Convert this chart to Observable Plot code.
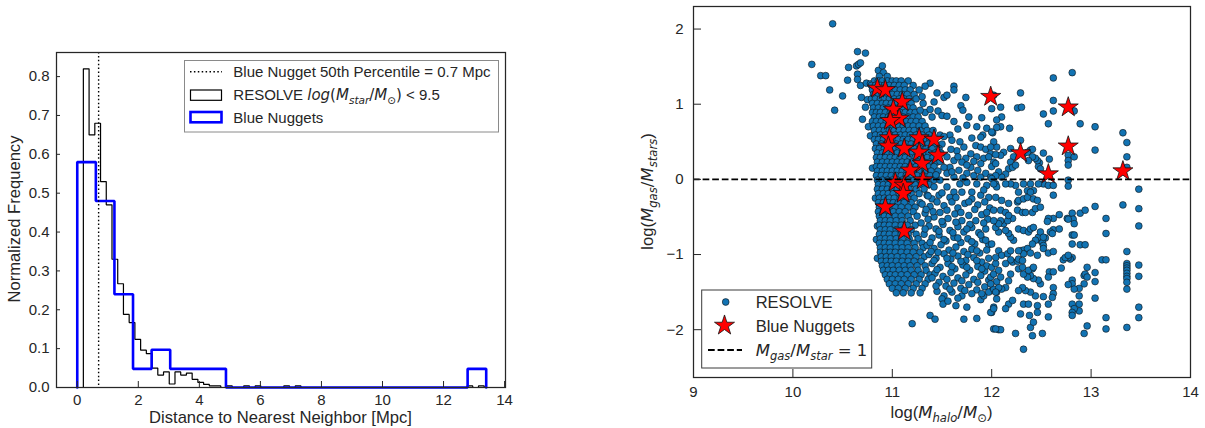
<!DOCTYPE html>
<html>
<head>
<meta charset="utf-8">
<script src="https://cdn.jsdelivr.net/npm/d3@7"></script>
<script src="https://cdn.jsdelivr.net/npm/@observablehq/plot@0.6"></script>
<style>
  body { margin: 0; background: #fff; }
  #wrap { position: relative; width: 1205px; height: 428px; overflow: hidden; }
  #wrap svg { position: absolute; top: 0; max-width: none; }
</style>
</head>
<body>
<div id="wrap"></div>
<script>
// ---------- Left panel: nearest-neighbour distance histograms ----------
const resolveBinStart = 0.2;
const resolveBinWidth = 0.1876;
const resolveHeights = [
  0.82, 0.65, 0.68, 0.53, 0.47, 0.33, 0.267, 0.188, 0.167, 0.124,
  0.096, 0.087, 0.05, 0.032, 0.04, 0.009, 0.04, 0.032, 0.037, 0.021,
  0.013, 0.008, 0.004, 0.004, 0, 0.004, 0, 0, 0.004, 0,
  0.004, 0, 0, 0, 0, 0.004, 0, 0.004, 0, 0,
  0, 0, 0, 0, 0, 0, 0, 0, 0, 0,
  0, 0, 0, 0, 0, 0, 0, 0, 0, 0,
  0, 0, 0, 0, 0, 0, 0, 0.004, 0, 0.004
];
const nuggetBinStart = 0;
const nuggetBinWidth = 0.609;
const nuggetHeights = [
  0.58, 0.48, 0.24, 0.048, 0.097, 0.048, 0.048, 0.048, 0, 0,
  0, 0, 0, 0, 0, 0, 0, 0, 0, 0,
  0, 0.048
];
const nuggetMedian = 0.7;
const distTicks = [0, 2, 4, 6, 8, 10, 12, 14];
const freqTicks = [0, 0.1, 0.2, 0.3, 0.4, 0.5, 0.6, 0.7, 0.8];

// ---------- Right panel: gas fraction vs halo mass ----------
const resolveSparseLeft = [
  [10.40,2.07],[10.19,1.53],[10.28,1.38],[10.33,1.38],[10.37,1.19],[10.50,1.11],[10.42,0.92],
  [10.55,1.32],[10.56,1.49],[10.65,1.70],[10.73,1.68],[10.64,1.51],[10.66,1.53],[10.68,1.55],
  [10.65,1.40],[10.65,1.33],[10.68,1.25],[10.69,1.09],[10.70,0.80],[10.75,1.06],[10.74,1.28],
  [10.78,1.27],[10.73,0.96],[10.86,1.45],[10.90,1.51],[10.91,1.42],[10.87,1.37],[10.95,1.37],
  [10.76,0.70],[10.78,0.58],[10.85,-0.62],[10.84,-0.80],[10.85,-1.05],[10.80,0.15],[10.83,-0.25]
];
const resolveCoreRows = [
  [1.31, [10.82,10.86,10.90,10.95,11.00,11.04,11.09,11.16]],
  [1.25, [10.79,10.83,10.88,10.92,10.97,11.02,11.07,11.12,11.21]],
  [1.19, [10.80,10.85,10.89,10.94,10.99,11.03,11.08,11.13,11.18]],
  [1.13, [10.81,10.86,10.90,10.95,11.00,11.05,11.10,11.15,11.22]],
  [1.07, [10.79,10.83,10.88,10.92,10.97,11.02,11.07,11.12,11.17,11.24]],
  [1.01, [10.80,10.85,10.90,10.94,10.99,11.04,11.09,11.14,11.19,11.31]],
  [0.95, [10.81,10.86,10.91,10.96,11.01,11.06,11.11,11.16,11.21]],
  [0.89, [10.80,10.84,10.88,10.93,10.98,11.03,11.08,11.13,11.18,11.23,11.33]],
  [0.83, [10.82,10.87,10.91,10.96,11.01,11.06,11.11,11.16,11.21,11.26,11.40]],
  [0.77, [10.80,10.84,10.89,10.94,10.99,11.04,11.09,11.14,11.19,11.24,11.30]],
  [0.71, [10.81,10.86,10.91,10.96,11.01,11.06,11.11,11.16,11.21,11.27,11.33]],
  [0.65, [10.82,10.87,10.92,10.97,11.02,11.07,11.12,11.17,11.22,11.28,11.35,11.41]],
  [0.59, [10.83,10.88,10.93,10.98,11.03,11.08,11.13,11.18,11.24,11.30,11.37,11.48]],
  [0.53, [10.82,10.86,10.91,10.96,11.01,11.06,11.11,11.16,11.21,11.26,11.32,11.38]],
  [0.47, [10.84,10.89,10.94,10.99,11.04,11.09,11.14,11.19,11.24,11.30,11.36,11.42,11.50]],
  [0.41, [10.83,10.87,10.92,10.97,11.02,11.07,11.12,11.17,11.22,11.28,11.34,11.40,11.47]],
  [0.35, [10.85,10.90,10.95,11.00,11.05,11.10,11.15,11.20,11.25,11.31,11.37,11.43,11.49]],
  [0.29, [10.84,10.88,10.93,10.98,11.03,11.08,11.13,11.18,11.23,11.29,11.35,11.41]],
  [0.23, [10.85,10.90,10.95,11.00,11.05,11.10,11.15,11.20,11.26,11.32,11.38,11.45]],
  [0.17, [10.84,10.88,10.93,10.98,11.03,11.08,11.13,11.18,11.24,11.30,11.36,11.42]],
  [0.11, [10.85,10.90,10.95,11.00,11.05,11.10,11.15,11.21,11.27,11.33,11.39,11.46]],
  [0.05, [10.84,10.89,10.94,10.99,11.04,11.09,11.14,11.19,11.25,11.31,11.38,11.44]],
  [-0.01, [10.85,10.90,10.95,11.00,11.05,11.10,11.16,11.22,11.28,11.35,11.42]],
  [-0.07, [10.86,10.91,10.96,11.01,11.06,11.11,11.17,11.23,11.30,11.37]],
  [-0.13, [10.85,10.90,10.95,11.00,11.05,11.11,11.17,11.24,11.32]],
  [-0.19, [10.86,10.91,10.96,11.01,11.07,11.13,11.19,11.27]],
  [-0.25, [10.87,10.92,10.97,11.02,11.08,11.15,11.22]],
  [-0.31, [10.86,10.91,10.96,11.01,11.06,11.12,11.19,11.28]],
  [-0.37, [10.87,10.92,10.97,11.03,11.09,11.16,11.23]],
  [-0.43, [10.86,10.91,10.96,11.01,11.07,11.13,11.21]],
  [-0.49, [10.87,10.92,10.97,11.03,11.09,11.16,11.25]],
  [-0.55, [10.88,10.93,10.98,11.04,11.10,11.18]],
  [-0.61, [10.87,10.92,10.97,11.03,11.09,11.15,11.23]],
  [-0.67, [10.88,10.93,10.98,11.04,11.11,11.19]],
  [-0.73, [10.87,10.92,10.97,11.03,11.09,11.16,11.24]],
  [-0.79, [10.88,10.93,10.98,11.04,11.10,11.17,11.26]],
  [-0.85, [10.87,10.92,10.97,11.03,11.09,11.15,11.22,11.30]],
  [-0.91, [10.88,10.93,10.98,11.04,11.10,11.16,11.23,11.31]],
  [-0.97, [10.88,10.93,10.98,11.03,11.09,11.15,11.21,11.28]],
  [-1.03, [10.89,10.94,10.99,11.05,11.11,11.17,11.24,11.32]],
  [-1.09, [10.89,10.94,10.99,11.04,11.10,11.16,11.22,11.29]],
  [-1.15, [10.90,10.95,11.00,11.06,11.12,11.18,11.25,11.33]],
  [-1.21, [10.91,10.96,11.01,11.07,11.13,11.19,11.26,11.34]],
  [-1.27, [10.93,10.98,11.03,11.09,11.15,11.22,11.29,11.38]],
  [-1.33, [10.95,11.00,11.06,11.12,11.19,11.27,11.36]],
  [-1.39, [10.97,11.03,11.09,11.16,11.24,11.33]],
  [-1.45, [11.00,11.06,11.13,11.21,11.30]],
  [-1.51, [11.04,11.11,11.19,11.28]]
];
const resolveMidUpper = [
  [11.38,1.28],[11.62,1.24],[11.52,1.09],[11.55,1.12],[11.42,1.03],[11.74,1.09],[11.69,0.98],
  [11.71,0.92],[11.28,0.92],[11.38,0.93],[11.46,0.91],[11.50,0.85],[11.55,0.84],[11.62,0.77],
  [11.75,0.72],[11.85,0.70],[11.90,0.82],[11.77,0.83],[11.91,0.59],[11.89,0.56],[11.84,0.45],
  [11.89,0.43],[11.94,0.40],[11.99,0.34],[12.05,0.43],[12.02,0.50],[12.01,0.62],[11.58,0.59],
  [11.52,0.57],[11.60,0.52],[11.72,0.43],[11.79,0.34],[11.74,0.28],[11.85,0.30],[11.92,0.28],
  [11.97,0.30],[12.02,0.23],[11.89,0.21],[11.79,0.16],[11.70,0.23],[11.62,0.25],[11.55,0.30],
  [11.58,0.16],[11.67,0.12],[11.75,0.08],[11.82,0.05],[11.89,0.03],[11.94,0.08],[11.99,0.03],
  [12.04,-0.06],[11.95,-0.08],[11.85,-0.06],[11.75,-0.04],[11.68,-0.06],[11.62,0.03],[11.55,0.08],
  [11.52,0.16],[11.48,-0.01],[11.55,-0.10],[11.62,-0.17],[11.70,-0.17],[11.80,-0.17],[11.89,-0.21],
  [11.97,-0.24],[11.42,-0.10],[11.47,-0.21],[11.58,-0.24],[11.35,-0.21],[11.40,-0.26],
  [11.62,1.19],[11.33,1.24],[11.45,1.15],[11.66,0.67],[11.95,0.68],[11.80,0.55],[11.68,0.50],
  [11.65,0.38],[11.59,0.40],[11.75,0.19],[11.27,1.19],[11.30,1.10],
  [11.44,0.06],[11.60,0.10],[11.71,0.02],[11.86,0.12],[11.48,0.24],[11.66,0.30],[11.82,0.24]
];
const resolveMidLower = [
  [11.30,-0.33],[11.38,-0.36],[11.45,-0.30],[11.52,-0.35],[11.60,-0.30],[11.66,-0.38],[11.73,-0.32],
  [11.80,-0.26],[11.86,-0.34],[11.93,-0.30],[11.98,-0.38],
  [11.33,-0.45],[11.42,-0.50],[11.48,-0.44],[11.56,-0.52],[11.63,-0.46],[11.70,-0.55],[11.77,-0.48],
  [11.84,-0.55],[11.90,-0.47],[11.96,-0.53],
  [11.29,-0.58],[11.37,-0.62],[11.44,-0.66],[11.51,-0.60],[11.58,-0.68],[11.66,-0.63],[11.72,-0.70],
  [11.80,-0.64],[11.87,-0.71],[11.94,-0.66],
  [11.32,-0.73],[11.40,-0.78],[11.47,-0.74],[11.54,-0.82],[11.62,-0.77],[11.69,-0.84],[11.76,-0.79],
  [11.83,-0.86],[11.91,-0.80],[11.97,-0.87],
  [11.35,-0.88],[11.42,-0.92],[11.49,-0.87],[11.57,-0.94],[11.64,-0.90],[11.72,-0.96],[11.80,-0.93],
  [11.88,-0.98],[11.95,-0.94],
  [11.37,-1.00],[11.44,-1.05],[11.52,-0.99],[11.59,-1.06],[11.66,-1.02],[11.74,-1.08],[11.82,-1.04],
  [11.90,-1.10],[11.97,-1.05],
  [11.40,-1.12],[11.48,-1.17],[11.56,-1.12],[11.63,-1.19],[11.71,-1.14],[11.78,-1.21],[11.86,-1.16],
  [11.93,-1.22],
  [11.43,-1.25],[11.51,-1.29],[11.59,-1.24],[11.66,-1.31],[11.74,-1.27],[11.82,-1.33],[11.89,-1.28],
  [11.97,-1.34],
  [11.47,-1.37],[11.54,-1.42],[11.62,-1.38],[11.69,-1.45],[11.77,-1.40],[11.85,-1.47],[11.93,-1.43],
  [12.00,-1.48],
  [11.45,-1.49],[11.52,-1.55],[11.60,-1.50],[11.70,-1.55],[11.80,-1.52],[11.89,-1.60],[11.92,-1.55],
  [11.97,-1.50],[12.02,-1.46],[12.05,-1.50],
  [11.50,-1.59],[11.51,-1.66],[11.38,-1.81],[11.43,-1.86],[11.20,-1.92],[11.72,-1.86],[11.85,-1.85],
  [12.00,-1.77],[12.02,-1.70],[12.05,-1.59],[12.02,-1.99],[12.07,-2.00],[11.56,-1.62],[11.64,-1.68],
  [11.75,-1.70],[11.66,-1.58],
  [11.34,-0.40],[11.41,-0.43],[11.55,-0.41],[11.69,-0.44],[11.83,-0.40],[11.95,-0.44],
  [11.36,-0.53],[11.50,-0.56],[11.64,-0.57],[11.78,-0.60],[11.92,-0.58],
  [11.33,-0.66],[11.47,-0.69],[11.61,-0.71],[11.75,-0.66],[11.89,-0.74],
  [11.38,-0.84],[11.52,-0.80],[11.66,-0.78],[11.80,-0.83],[11.94,-0.81],
  [11.39,-0.96],[11.46,-0.97],[11.61,-0.98],[11.76,-1.00],[11.85,-0.95],
  [11.42,-1.08],[11.55,-1.05],[11.69,-1.09],[11.85,-1.08],[11.95,-1.15],
  [11.45,-1.20],[11.60,-1.16],[11.75,-1.17],[11.90,-1.19],
  [11.40,-1.31],[11.55,-1.33],[11.70,-1.35],[11.86,-1.37],[11.99,-1.30],
  [11.44,-1.42],[11.58,-1.46],[11.73,-1.48],[11.90,-1.52],
  [11.36,-0.22],[11.50,-0.18],[11.64,-0.24],[11.77,-0.30],[11.92,-0.14]
];
const resolveHighHalo = [
  [12.81,1.42],[12.62,1.35],[12.29,1.15],[12.26,0.95],[12.30,0.96],[12.62,1.05],[12.62,0.91],
  [12.52,0.87],[12.57,0.74],[12.83,0.91],[12.89,0.74],[13.04,0.70],[13.04,0.39],[13.32,0.62],
  [13.36,0.49],[13.36,0.30],[13.36,0.16],
  [12.77,0.32],[12.77,0.25],[12.77,0.19],[12.77,-0.01],[12.77,-0.09],[12.83,0.30],[12.58,0.27],
  [12.52,0.35],[12.48,0.22],[12.47,0.17],[12.49,0.14],[12.46,0.25],[12.44,0.28],[12.39,0.39],
  [12.41,0.40],[12.29,0.52],[12.18,0.68],[12.10,0.83],[12.09,0.70],[12.05,0.79],[12.05,0.69],
  [12.09,0.96],[12.02,1.12],[12.00,0.94],[12.00,0.63],[11.99,0.43],[12.12,0.36],[12.09,0.32],
  [12.04,0.33],[12.19,0.41],[12.22,0.30],[12.19,0.23],[12.17,0.14],[12.14,0.07],[12.10,0.03],
  [12.07,0.10],[12.04,0.05],[12.00,0.01],[12.21,0.16],[12.24,0.19],[12.00,0.17],[12.04,0.21],
  [12.32,0.34],[12.36,0.36],[12.41,0.30],[12.37,0.25],
  [12.52,-0.06],[12.57,-0.08],[12.62,-0.08],[12.62,-0.21],[12.47,-0.06],[12.42,-0.15],[12.39,-0.06],
  [12.32,-0.06],[12.36,-0.15],[12.27,-0.17],[12.24,-0.08],[12.19,-0.06],[12.14,-0.06],[12.05,-0.10],
  [12.02,-0.06],
  [13.04,-0.36],[13.15,-0.52],[13.15,-0.72],[13.32,-0.34],[13.48,-0.13],[13.48,-0.39],[13.48,-0.62],
  [13.36,-0.96],[13.36,-1.12],[13.36,-1.15],[13.36,-1.18],[13.36,-1.21],[13.36,-1.25],[13.36,-1.29],
  [13.36,-1.32],[13.36,-1.37],[13.36,-1.46],[13.48,-1.14],[13.48,-1.29],[13.48,-1.70],[13.48,-1.84],
  [13.36,-1.97],[13.15,-1.84],[13.15,-1.99],[13.11,-1.07],[13.15,-1.07],[13.04,-1.24],[13.04,-1.36],
  [13.04,-1.58],[12.96,-1.17],[12.93,-1.28],[12.94,-1.26],[12.96,-1.30],[12.93,-1.39],
  [12.88,-1.45],[12.88,-1.55],[12.88,-1.66],[12.88,-1.75],
  [12.81,-1.34],[12.81,-1.39],[12.83,-1.46],[12.81,-1.66],[12.83,-1.72],[12.81,-1.77],[12.81,-1.81],
  [12.77,-1.40],[12.96,-1.95],[12.93,-2.05],[12.81,-1.04],[12.79,-1.06],[12.77,-1.04],
  [12.81,-0.86],[12.81,-0.74],[12.83,-0.74],[12.89,-0.87],[12.94,-0.87],
  [12.81,-0.45],[12.76,-0.52],[12.82,-0.53],[12.83,-0.59],[12.77,-0.53],[12.89,-0.45],[12.94,-0.41],
  [12.68,-0.47],[12.62,-0.52],[12.57,-0.52],[12.56,-0.56],[12.62,-0.67],[12.68,-0.66],[12.59,-0.70],
  [12.61,-0.72],[12.54,-0.78],[12.49,-0.81],[12.51,-0.84],[12.52,-0.88],[12.52,-0.92],[12.57,-0.98],
  [12.62,-0.96],[12.72,-1.07],[12.74,-1.04],[12.77,-1.01],[12.70,-1.18],[12.58,-1.23],[12.62,-1.23],
  [12.57,-1.30],[12.62,-1.44],[12.62,-1.52],[12.61,-1.57],[12.57,-1.66],[12.52,-1.56],[12.49,-1.39],
  [12.47,-1.34],[12.57,-1.83],[12.51,-2.05],[12.41,-2.08],[12.39,-1.97],[12.42,-1.90],[12.32,-2.26],
  [12.24,-2.05],[12.09,-2.00],[12.04,-1.99],[12.29,-1.79],[12.32,-1.66],[12.37,-1.66],[12.38,-1.81],
  [12.46,-1.68],[12.46,-1.77],[12.17,-1.66],[12.21,-1.61],[12.14,-1.72],[11.99,-1.77],[12.02,-1.72],
  [12.44,-1.55],[12.39,-1.50],[12.34,-1.48],[12.31,-1.44],[12.27,-1.48],[12.42,-1.32],[12.39,-1.28],
  [12.36,-1.30],[12.32,-1.26],[12.27,-1.19],[12.31,-1.17],[12.41,-1.19],[12.37,-1.21],[12.42,-1.17],
  [12.19,-1.26],[12.17,-1.35],[12.14,-1.44],[12.10,-1.46],[12.07,-1.44],[12.05,-1.36],[12.04,-1.50],
  [12.09,-1.30],[12.02,-1.26],[12.21,-1.10],[12.26,-1.09],[12.27,-1.06],[12.31,-1.08],[12.29,-0.95],
  [12.32,-0.94],[12.19,-1.07],[12.14,-1.12],[12.07,-1.21],[12.00,-1.17],[12.04,-1.12],[11.99,-1.39],
  [12.22,-0.81],[12.19,-0.77],[12.17,-0.72],[12.14,-0.68],[12.07,-0.70],[12.04,-0.64],[12.12,-0.59],
  [12.27,-0.66],[12.32,-0.68],[12.37,-0.70],[12.39,-0.66],[12.42,-0.64],[12.47,-0.77],[12.49,-0.70],
  [12.52,-0.77],[12.21,-0.52],[12.16,-0.55],[12.26,-0.41],[12.31,-0.44],[12.34,-0.44],[12.41,-0.44],
  [12.44,-0.39],[12.49,-0.37],[12.26,-0.30],[12.27,-0.28],[12.32,-0.26],[12.36,-0.24],[12.42,-0.26],
  [12.46,-0.28],[12.39,-0.17],[12.17,-0.32],[12.10,-0.28],[12.04,-0.24],[12.02,-0.41],[12.09,-0.41],
  [12.14,-0.44],[12.17,-0.48],[12.09,-0.55],[12.07,-0.59],[12.02,-0.55],[12.00,-0.86],[12.07,-0.95],
  [12.10,-1.01],[12.16,-0.99],[12.19,-0.95],[12.04,-1.04],[12.44,-0.81],[12.41,-0.86],[12.36,-0.92],
  [12.32,-0.99],[12.27,-0.95],[12.46,-1.01],[12.39,-0.98]
];
const nuggetPoints = [
  [10.85,1.21],[10.93,1.19],[11.10,1.03],[11.01,0.93],[11.07,0.81],[10.98,0.78],[11.99,1.10],
  [12.77,0.96],[10.97,0.55],[11.27,0.55],[11.42,0.53],[10.96,0.44],[11.12,0.41],[11.27,0.36],
  [11.46,0.32],[11.30,0.21],[11.18,0.12],[12.29,0.35],[12.77,0.44],[12.57,0.07],[13.32,0.11],
  [11.31,-0.01],[11.03,-0.04],[11.12,-0.08],[11.11,-0.19],[10.93,-0.37],[11.12,-0.69]
];
const equalGasStars = 0;
const haloTicks = [9, 10, 11, 12, 13, 14];
const ratioTicks = [-2, -1, 0, 1, 2];

// ---------- shared styling ----------
const SANS = "'Liberation Sans', Arial, sans-serif";
const MATH = "'DejaVu Sans', sans-serif";
const INK = "#262626";
const DOT_BLUE = "#1273b3";

// Histogram outline in the manner of a step histogram
function stepOutline(start, width, heights) {
  const pts = [{x: start, y: 0}];
  heights.forEach((h, i) => {
    pts.push({x: start + i * width, y: h}, {x: start + (i + 1) * width, y: h});
  });
  pts.push({x: start + heights.length * width, y: 0});
  return pts;
}

// Text with italic/subscript runs for the mathematical labels
function rich(sel, x, y, parts, {size = 15, anchor = "start", rotate = 0} = {}) {
  const t = sel.append("text")
    .attr("x", x).attr("y", y)
    .attr("text-anchor", anchor)
    .attr("fill", INK)
    .style("font-family", SANS)
    .style("font-size", size + "px");
  if (rotate) t.attr("transform", `rotate(${rotate},${x},${y})`);
  let shift = 0;
  for (const p of parts) {
    const s = t.append("tspan").text(p.t);
    const target = p.sub ? size * 0.26 : 0;
    if (target !== shift) { s.attr("dy", target - shift); shift = target; }
    s.style("font-size", (p.sub ? size * 0.7 : size) + "px");
    if (p.math) s.style("font-family", MATH);
    if (p.it) s.style("font-style", "italic");
  }
  return t;
}

const wrap = d3.select("#wrap");
const intFormat = d3.format("d");

// ---------- left chart ----------
const L = {width: 600, height: 428, top: 52, right: 95, bottom: 41, left: 56};
const leftPlot = Plot.plot({
  width: L.width, height: L.height,
  marginTop: L.top, marginRight: L.right, marginBottom: L.bottom, marginLeft: L.left,
  x: {domain: [-0.68, 14.03]},
  y: {domain: [0, 0.862]},
  style: {fontFamily: SANS, fontSize: "15px", color: INK, background: "transparent", overflow: "visible"},
  marks: [
    Plot.line(stepOutline(resolveBinStart, resolveBinWidth, resolveHeights),
      {x: "x", y: "y", stroke: "#000", strokeWidth: 1.2, strokeLinejoin: "miter"}),
    Plot.line(stepOutline(nuggetBinStart, nuggetBinWidth, nuggetHeights),
      {x: "x", y: "y", stroke: "#0000ff", strokeWidth: 2.6, strokeLinejoin: "miter"}),
    Plot.ruleX([nuggetMedian], {x: d => d, stroke: "#000", strokeWidth: 1.4, strokeDasharray: "1.5,2.4"}),
    Plot.tickX(distTicks, {x: d => d, stroke: INK, strokeWidth: 1, insetTop: L.height - L.top - L.bottom - 6}),
    Plot.tickY(freqTicks, {y: d => d, stroke: INK, strokeWidth: 1, insetRight: L.width - L.left - L.right - 4}),
    Plot.axisX(distTicks, {tickSize: 0, tickPadding: 7, label: null, tickFormat: intFormat, fontSize: 15}),
    Plot.axisY(freqTicks, {tickSize: 0, tickPadding: 7, label: null, tickFormat: d3.format(".1f"), fontSize: 15}),
    Plot.frame({stroke: INK, strokeWidth: 1.25})
  ]
});
d3.select(leftPlot).style("left", "0px");
wrap.node().appendChild(leftPlot);
const ls = d3.select(leftPlot);

rich(ls, 280.5, 423, [{t: "Distance to Nearest Neighbor [Mpc]"}], {size: 16.6, anchor: "middle"});
rich(ls, 20, 219, [{t: "Normalized Frequency"}], {size: 16.6, anchor: "middle", rotate: -90});

// legend
const lg = ls.append("g");
lg.append("rect").attr("x", 184.5).attr("y", 60.5).attr("width", 314).attr("height", 71.5)
  .attr("fill", "#fff").attr("stroke", "#8a8a8a").attr("stroke-width", 1);
lg.append("line").attr("x1", 190).attr("x2", 222).attr("y1", 71.7).attr("y2", 71.7)
  .attr("stroke", "#000").attr("stroke-width", 1.4).attr("stroke-dasharray", "1.5,2.4");
rich(lg, 233.3, 77, [{t: "Blue Nugget 50th Percentile = 0.7 Mpc"}]);
lg.append("rect").attr("x", 190.5).attr("y", 90).attr("width", 31).attr("height", 10.3)
  .attr("fill", "none").attr("stroke", "#000").attr("stroke-width", 1.2);
rich(lg, 233.3, 100.3, [
  {t: "RESOLVE "}, {t: "log", math: true, it: true}, {t: "(", math: true},
  {t: "M", math: true, it: true}, {t: "star", math: true, it: true, sub: true},
  {t: "/", math: true}, {t: "M", math: true, it: true}, {t: "\u2299", math: true, sub: true},
  {t: ")", math: true}, {t: " < 9.5"}
]);
lg.append("rect").attr("x", 190.5).attr("y", 112).attr("width", 31).attr("height", 10.3)
  .attr("fill", "none").attr("stroke", "#0000ff").attr("stroke-width", 2.6);
rich(lg, 233.3, 122.6, [{t: "Blue Nuggets"}]);

// ---------- right chart ----------
const R = {width: 605, height: 428, top: 6, right: 15, bottom: 51, left: 93};
const resolvePoints = [
  ...resolveSparseLeft,
  ...resolveCoreRows.flatMap(([y, xs]) => xs.map(x => [x, y])),
  ...resolveMidUpper,
  ...resolveMidLower,
  ...resolveHighHalo
];
const rightPlot = Plot.plot({
  width: R.width, height: R.height,
  marginTop: R.top, marginRight: R.right, marginBottom: R.bottom, marginLeft: R.left,
  x: {domain: [9, 14]},
  y: {domain: [-2.636, 2.30]},
  style: {fontFamily: SANS, fontSize: "15px", color: INK, background: "transparent", overflow: "visible"},
  marks: [
    Plot.dot(resolvePoints, {x: d => d[0], y: d => d[1], r: 3.4, fill: DOT_BLUE, stroke: "#111", strokeWidth: 0.6}),
    Plot.dot(nuggetPoints, {x: d => d[0], y: d => d[1], symbol: "star", r: 6.3, fill: "#ff0000", stroke: "#111", strokeWidth: 0.8}),
    Plot.ruleY([equalGasStars], {y: d => d, stroke: "#000", strokeWidth: 1.8, strokeDasharray: "6.7,2.9"}),
    Plot.tickX(haloTicks, {x: d => d, stroke: INK, strokeWidth: 1, insetTop: R.height - R.top - R.bottom - 8}),
    Plot.tickY(ratioTicks, {y: d => d, stroke: INK, strokeWidth: 1, insetRight: R.width - R.left - R.right - 8}),
    Plot.axisX(haloTicks, {tickSize: 0, tickPadding: 9, label: null, tickFormat: intFormat, fontSize: 15}),
    Plot.axisY(ratioTicks, {tickSize: 0, tickPadding: 10, label: null, tickFormat: intFormat, fontSize: 15}),
    Plot.frame({stroke: INK, strokeWidth: 1.25})
  ]
});
d3.select(rightPlot).style("left", "600px");
wrap.node().appendChild(rightPlot);
const rs = d3.select(rightPlot);

rich(rs, 341.5, 418, [
  {t: "log("}, {t: "M", math: true, it: true}, {t: "halo", math: true, it: true, sub: true},
  {t: "/", math: true}, {t: "M", math: true, it: true}, {t: "\u2299", math: true, sub: true}, {t: ")"}
], {size: 16.6, anchor: "middle"});
rich(rs, 53, 191.5, [
  {t: "log("}, {t: "M", math: true, it: true}, {t: "gas", math: true, it: true, sub: true},
  {t: "/", math: true}, {t: "M", math: true, it: true}, {t: "stars", math: true, it: true, sub: true}, {t: ")"}
], {size: 16.6, anchor: "middle", rotate: -90});

// legend
const rg = rs.append("g");
rg.append("rect").attr("x", 101.7).attr("y", 290).attr("width", 170).attr("height", 78)
  .attr("fill", "#fff").attr("stroke", "#3a3a3a").attr("stroke-width", 1);
rg.append("circle").attr("cx", 125.7).attr("cy", 302).attr("r", 3.4)
  .attr("fill", DOT_BLUE).attr("stroke", "#111").attr("stroke-width", 0.6);
rich(rg, 155.7, 308, [{t: "RESOLVE"}], {size: 16.5});
rg.append("path").attr("transform", "translate(124.5,325.5)")
  .attr("d", d3.symbol(d3.symbolStar, Math.PI * 6.3 * 6.3)())
  .attr("fill", "#ff0000").attr("stroke", "#111").attr("stroke-width", 0.8);
rich(rg, 155.7, 331.5, [{t: "Blue Nuggets"}], {size: 16.5});
rg.append("line").attr("x1", 108).attr("x2", 142).attr("y1", 350).attr("y2", 350)
  .attr("stroke", "#000").attr("stroke-width", 1.8).attr("stroke-dasharray", "6.7,2.9");
rich(rg, 155.7, 356, [
  {t: "M", math: true, it: true}, {t: "gas", math: true, it: true, sub: true},
  {t: "/", math: true}, {t: "M", math: true, it: true}, {t: "star", math: true, it: true, sub: true},
  {t: " = 1", math: true}
], {size: 16.5});
</script>
</body>
</html>
